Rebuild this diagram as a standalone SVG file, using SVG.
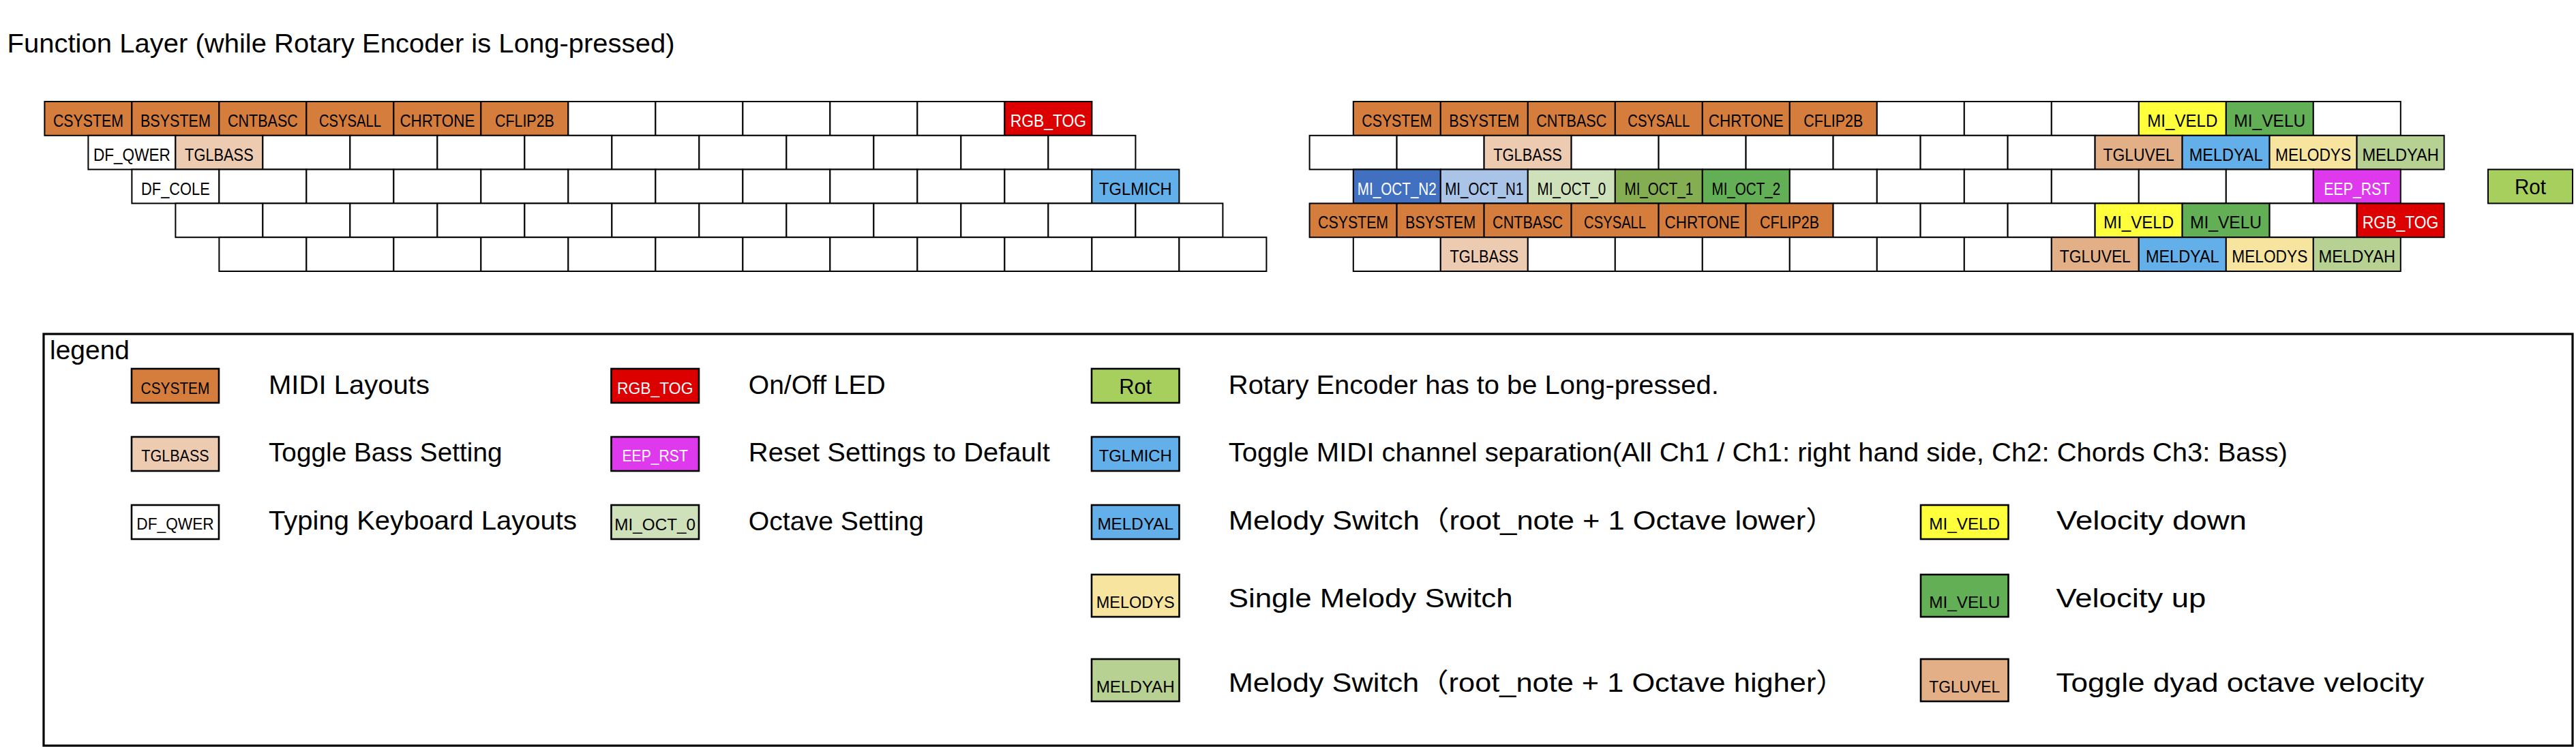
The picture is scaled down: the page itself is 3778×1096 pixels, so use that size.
<svg xmlns="http://www.w3.org/2000/svg" width="3778" height="1096" viewBox="0 0 3778 1096">
<style>
text{font-family:"Liberation Sans","Noto Sans CJK JP",Arial,sans-serif;fill:#000}
.k{stroke:#000;stroke-width:2;fill:#fff}
.s{stroke:#000;stroke-width:2.6}
.kl{font-size:25px;text-anchor:middle}
.sl{font-size:24px;text-anchor:middle}
.rt{font-size:31px;text-anchor:middle}
.d{font-size:39px}
.w{fill:#fff}
.o{fill:#D57D3C}.pb{fill:#EDCBB0}.rd{fill:#DC0000}.bl{fill:#63AFEA}
.n2{fill:#4170C0}.n1{fill:#A9C4E7}.c0{fill:#CFE1BA}.c1{fill:#84AE51}.c2{fill:#62AF56}
.ye{fill:#FFFF3C}.gr{fill:#62AF56}.tu{fill:#E3AF86}.ms{fill:#F7E59F}.mh{fill:#B7D192}
.ep{fill:#DF39ED}.ro{fill:#A6CF5E}.wh{fill:#fff}
</style>
<rect x="0" y="0" width="3778" height="1096" fill="#fff"/>
<text id="title" class="d" x="10.5" y="77.3" textLength="979" lengthAdjust="spacingAndGlyphs">Function Layer (while Rotary Encoder is Long-pressed)</text>

<g id="left-keyboard">
<!-- row 1 -->
<g id="L1-0"><rect class="k o" x="65.4" y="149" width="128" height="49.8"/><text class="kl" x="129.4" y="186" textLength="103" lengthAdjust="spacingAndGlyphs">CSYSTEM</text></g>
<g id="L1-1"><rect class="k o" x="193.4" y="149" width="128" height="49.8"/><text class="kl" x="257.4" y="186" textLength="103" lengthAdjust="spacingAndGlyphs">BSYSTEM</text></g>
<g id="L1-2"><rect class="k o" x="321.4" y="149" width="128" height="49.8"/><text class="kl" x="385.4" y="186" textLength="103" lengthAdjust="spacingAndGlyphs">CNTBASC</text></g>
<g id="L1-3"><rect class="k o" x="449.4" y="149" width="128" height="49.8"/><text class="kl" x="513.4" y="186" textLength="91" lengthAdjust="spacingAndGlyphs">CSYSALL</text></g>
<g id="L1-4"><rect class="k o" x="577.4" y="149" width="128" height="49.8"/><text class="kl" x="641.4" y="186" textLength="110" lengthAdjust="spacingAndGlyphs">CHRTONE</text></g>
<g id="L1-5"><rect class="k o" x="705.4" y="149" width="128" height="49.8"/><text class="kl" x="769.4" y="186" textLength="87" lengthAdjust="spacingAndGlyphs">CFLIP2B</text></g>
<g id="L1-6"><rect class="k" x="833.4" y="149" width="128" height="49.8"/></g>
<g id="L1-7"><rect class="k" x="961.4" y="149" width="128" height="49.8"/></g>
<g id="L1-8"><rect class="k" x="1089.4" y="149" width="128" height="49.8"/></g>
<g id="L1-9"><rect class="k" x="1217.4" y="149" width="128" height="49.8"/></g>
<g id="L1-10"><rect class="k" x="1345.4" y="149" width="128" height="49.8"/></g>
<g id="L1-11"><rect class="k rd" x="1473.4" y="149" width="128" height="49.8"/><text class="kl w" x="1537.4" y="186" textLength="111.5" lengthAdjust="spacingAndGlyphs">RGB_TOG</text></g>
<!-- row 2 -->
<g id="L2-0"><rect class="k" x="129.4" y="198.8" width="128" height="49.8"/><text class="kl" x="193.4" y="235.8" textLength="113" lengthAdjust="spacingAndGlyphs">DF_QWER</text></g>
<g id="L2-1"><rect class="k pb" x="257.4" y="198.8" width="128" height="49.8"/><text class="kl" x="321.4" y="235.8" textLength="100.6" lengthAdjust="spacingAndGlyphs">TGLBASS</text></g>
<g id="L2-2"><rect class="k" x="385.4" y="198.8" width="128" height="49.8"/></g>
<g id="L2-3"><rect class="k" x="513.4" y="198.8" width="128" height="49.8"/></g>
<g id="L2-4"><rect class="k" x="641.4" y="198.8" width="128" height="49.8"/></g>
<g id="L2-5"><rect class="k" x="769.4" y="198.8" width="128" height="49.8"/></g>
<g id="L2-6"><rect class="k" x="897.4" y="198.8" width="128" height="49.8"/></g>
<g id="L2-7"><rect class="k" x="1025.4" y="198.8" width="128" height="49.8"/></g>
<g id="L2-8"><rect class="k" x="1153.4" y="198.8" width="128" height="49.8"/></g>
<g id="L2-9"><rect class="k" x="1281.4" y="198.8" width="128" height="49.8"/></g>
<g id="L2-10"><rect class="k" x="1409.4" y="198.8" width="128" height="49.8"/></g>
<g id="L2-11"><rect class="k" x="1537.4" y="198.8" width="128" height="49.8"/></g>
<!-- row 3 -->
<g id="L3-0"><rect class="k" x="193.4" y="248.6" width="128" height="49.8"/><text class="kl" x="257.4" y="285.6" textLength="100.6" lengthAdjust="spacingAndGlyphs">DF_COLE</text></g>
<g id="L3-1"><rect class="k" x="321.4" y="248.6" width="128" height="49.8"/></g>
<g id="L3-2"><rect class="k" x="449.4" y="248.6" width="128" height="49.8"/></g>
<g id="L3-3"><rect class="k" x="577.4" y="248.6" width="128" height="49.8"/></g>
<g id="L3-4"><rect class="k" x="705.4" y="248.6" width="128" height="49.8"/></g>
<g id="L3-5"><rect class="k" x="833.4" y="248.6" width="128" height="49.8"/></g>
<g id="L3-6"><rect class="k" x="961.4" y="248.6" width="128" height="49.8"/></g>
<g id="L3-7"><rect class="k" x="1089.4" y="248.6" width="128" height="49.8"/></g>
<g id="L3-8"><rect class="k" x="1217.4" y="248.6" width="128" height="49.8"/></g>
<g id="L3-9"><rect class="k" x="1345.4" y="248.6" width="128" height="49.8"/></g>
<g id="L3-10"><rect class="k" x="1473.4" y="248.6" width="128" height="49.8"/></g>
<g id="L3-11"><rect class="k bl" x="1601.4" y="248.6" width="128" height="49.8"/><text class="kl" x="1665.4" y="285.6" textLength="106.6" lengthAdjust="spacingAndGlyphs">TGLMICH</text></g>
<!-- row 4 -->
<g id="L4-0"><rect class="k" x="257.4" y="298.4" width="128" height="49.8"/></g>
<g id="L4-1"><rect class="k" x="385.4" y="298.4" width="128" height="49.8"/></g>
<g id="L4-2"><rect class="k" x="513.4" y="298.4" width="128" height="49.8"/></g>
<g id="L4-3"><rect class="k" x="641.4" y="298.4" width="128" height="49.8"/></g>
<g id="L4-4"><rect class="k" x="769.4" y="298.4" width="128" height="49.8"/></g>
<g id="L4-5"><rect class="k" x="897.4" y="298.4" width="128" height="49.8"/></g>
<g id="L4-6"><rect class="k" x="1025.4" y="298.4" width="128" height="49.8"/></g>
<g id="L4-7"><rect class="k" x="1153.4" y="298.4" width="128" height="49.8"/></g>
<g id="L4-8"><rect class="k" x="1281.4" y="298.4" width="128" height="49.8"/></g>
<g id="L4-9"><rect class="k" x="1409.4" y="298.4" width="128" height="49.8"/></g>
<g id="L4-10"><rect class="k" x="1537.4" y="298.4" width="128" height="49.8"/></g>
<g id="L4-11"><rect class="k" x="1665.4" y="298.4" width="128" height="49.8"/></g>
<!-- row 5 -->
<g id="L5-0"><rect class="k" x="321.4" y="348.2" width="128" height="49.8"/></g>
<g id="L5-1"><rect class="k" x="449.4" y="348.2" width="128" height="49.8"/></g>
<g id="L5-2"><rect class="k" x="577.4" y="348.2" width="128" height="49.8"/></g>
<g id="L5-3"><rect class="k" x="705.4" y="348.2" width="128" height="49.8"/></g>
<g id="L5-4"><rect class="k" x="833.4" y="348.2" width="128" height="49.8"/></g>
<g id="L5-5"><rect class="k" x="961.4" y="348.2" width="128" height="49.8"/></g>
<g id="L5-6"><rect class="k" x="1089.4" y="348.2" width="128" height="49.8"/></g>
<g id="L5-7"><rect class="k" x="1217.4" y="348.2" width="128" height="49.8"/></g>
<g id="L5-8"><rect class="k" x="1345.4" y="348.2" width="128" height="49.8"/></g>
<g id="L5-9"><rect class="k" x="1473.4" y="348.2" width="128" height="49.8"/></g>
<g id="L5-10"><rect class="k" x="1601.4" y="348.2" width="128" height="49.8"/></g>
<g id="L5-11"><rect class="k" x="1729.4" y="348.2" width="128" height="49.8"/></g>
</g>

<g id="right-keyboard">
<!-- row 1 -->
<g id="R1-0"><rect class="k o" x="1984.8" y="149" width="128" height="49.8"/><text class="kl" x="2048.8" y="186" textLength="103" lengthAdjust="spacingAndGlyphs">CSYSTEM</text></g>
<g id="R1-1"><rect class="k o" x="2112.8" y="149" width="128" height="49.8"/><text class="kl" x="2176.8" y="186" textLength="103" lengthAdjust="spacingAndGlyphs">BSYSTEM</text></g>
<g id="R1-2"><rect class="k o" x="2240.8" y="149" width="128" height="49.8"/><text class="kl" x="2304.8" y="186" textLength="103" lengthAdjust="spacingAndGlyphs">CNTBASC</text></g>
<g id="R1-3"><rect class="k o" x="2368.8" y="149" width="128" height="49.8"/><text class="kl" x="2432.8" y="186" textLength="91" lengthAdjust="spacingAndGlyphs">CSYSALL</text></g>
<g id="R1-4"><rect class="k o" x="2496.8" y="149" width="128" height="49.8"/><text class="kl" x="2560.8" y="186" textLength="110" lengthAdjust="spacingAndGlyphs">CHRTONE</text></g>
<g id="R1-5"><rect class="k o" x="2624.8" y="149" width="128" height="49.8"/><text class="kl" x="2688.8" y="186" textLength="87" lengthAdjust="spacingAndGlyphs">CFLIP2B</text></g>
<g id="R1-6"><rect class="k" x="2752.8" y="149" width="128" height="49.8"/></g>
<g id="R1-7"><rect class="k" x="2880.8" y="149" width="128" height="49.8"/></g>
<g id="R1-8"><rect class="k" x="3008.8" y="149" width="128" height="49.8"/></g>
<g id="R1-9"><rect class="k ye" x="3136.8" y="149" width="128" height="49.8"/><text class="kl" x="3200.8" y="186" textLength="103" lengthAdjust="spacingAndGlyphs">MI_VELD</text></g>
<g id="R1-10"><rect class="k gr" x="3264.8" y="149" width="128" height="49.8"/><text class="kl" x="3328.8" y="186" textLength="105" lengthAdjust="spacingAndGlyphs">MI_VELU</text></g>
<g id="R1-11"><rect class="k" x="3392.8" y="149" width="128" height="49.8"/></g>
<!-- row 2 -->
<g id="R2-0"><rect class="k" x="1920.6" y="198.8" width="128" height="49.8"/></g>
<g id="R2-1"><rect class="k" x="2048.6" y="198.8" width="128" height="49.8"/></g>
<g id="R2-2"><rect class="k pb" x="2176.6" y="198.8" width="128" height="49.8"/><text class="kl" x="2240.6" y="235.8" textLength="100.6" lengthAdjust="spacingAndGlyphs">TGLBASS</text></g>
<g id="R2-3"><rect class="k" x="2304.6" y="198.8" width="128" height="49.8"/></g>
<g id="R2-4"><rect class="k" x="2432.6" y="198.8" width="128" height="49.8"/></g>
<g id="R2-5"><rect class="k" x="2560.6" y="198.8" width="128" height="49.8"/></g>
<g id="R2-6"><rect class="k" x="2688.6" y="198.8" width="128" height="49.8"/></g>
<g id="R2-7"><rect class="k" x="2816.6" y="198.8" width="128" height="49.8"/></g>
<g id="R2-8"><rect class="k" x="2944.6" y="198.8" width="128" height="49.8"/></g>
<g id="R2-9"><rect class="k tu" x="3072.6" y="198.8" width="128" height="49.8"/><text class="kl" x="3136.6" y="235.8" textLength="104" lengthAdjust="spacingAndGlyphs">TGLUVEL</text></g>
<g id="R2-10"><rect class="k bl" x="3200.6" y="198.8" width="128" height="49.8"/><text class="kl" x="3264.6" y="235.8" textLength="107.7" lengthAdjust="spacingAndGlyphs">MELDYAL</text></g>
<g id="R2-11"><rect class="k ms" x="3328.6" y="198.8" width="128" height="49.8"/><text class="kl" x="3392.6" y="235.8" textLength="111" lengthAdjust="spacingAndGlyphs">MELODYS</text></g>
<g id="R2-12"><rect class="k mh" x="3456.6" y="198.8" width="128" height="49.8"/><text class="kl" x="3520.6" y="235.8" textLength="112.4" lengthAdjust="spacingAndGlyphs">MELDYAH</text></g>
<!-- row 3 -->
<g id="R3-0"><rect class="k n2" x="1984.8" y="248.6" width="128" height="49.8"/><text class="kl w" x="2048.8" y="285.6" textLength="116" lengthAdjust="spacingAndGlyphs">MI_OCT_N2</text></g>
<g id="R3-1"><rect class="k n1" x="2112.8" y="248.6" width="128" height="49.8"/><text class="kl" x="2176.8" y="285.6" textLength="115" lengthAdjust="spacingAndGlyphs">MI_OCT_N1</text></g>
<g id="R3-2"><rect class="k c0" x="2240.8" y="248.6" width="128" height="49.8"/><text class="kl" x="2304.8" y="285.6" textLength="100.6" lengthAdjust="spacingAndGlyphs">MI_OCT_0</text></g>
<g id="R3-3"><rect class="k c1" x="2368.8" y="248.6" width="128" height="49.8"/><text class="kl" x="2432.8" y="285.6" textLength="100.6" lengthAdjust="spacingAndGlyphs">MI_OCT_1</text></g>
<g id="R3-4"><rect class="k c2" x="2496.8" y="248.6" width="128" height="49.8"/><text class="kl" x="2560.8" y="285.6" textLength="100.6" lengthAdjust="spacingAndGlyphs">MI_OCT_2</text></g>
<g id="R3-5"><rect class="k" x="2624.8" y="248.6" width="128" height="49.8"/></g>
<g id="R3-6"><rect class="k" x="2752.8" y="248.6" width="128" height="49.8"/></g>
<g id="R3-7"><rect class="k" x="2880.8" y="248.6" width="128" height="49.8"/></g>
<g id="R3-8"><rect class="k" x="3008.8" y="248.6" width="128" height="49.8"/></g>
<g id="R3-9"><rect class="k" x="3136.8" y="248.6" width="128" height="49.8"/></g>
<g id="R3-10"><rect class="k" x="3264.8" y="248.6" width="128" height="49.8"/></g>
<g id="R3-11"><rect class="k ep" x="3392.8" y="248.6" width="128" height="49.8"/><text class="kl w" x="3456.8" y="285.6" textLength="97" lengthAdjust="spacingAndGlyphs">EEP_RST</text></g>
<!-- row 4 -->
<g id="R4-0"><rect class="k o" x="1920.6" y="298.4" width="128" height="49.8"/><text class="kl" x="1984.6" y="335.4" textLength="103" lengthAdjust="spacingAndGlyphs">CSYSTEM</text></g>
<g id="R4-1"><rect class="k o" x="2048.6" y="298.4" width="128" height="49.8"/><text class="kl" x="2112.6" y="335.4" textLength="103" lengthAdjust="spacingAndGlyphs">BSYSTEM</text></g>
<g id="R4-2"><rect class="k o" x="2176.6" y="298.4" width="128" height="49.8"/><text class="kl" x="2240.6" y="335.4" textLength="103" lengthAdjust="spacingAndGlyphs">CNTBASC</text></g>
<g id="R4-3"><rect class="k o" x="2304.6" y="298.4" width="128" height="49.8"/><text class="kl" x="2368.6" y="335.4" textLength="91" lengthAdjust="spacingAndGlyphs">CSYSALL</text></g>
<g id="R4-4"><rect class="k o" x="2432.6" y="298.4" width="128" height="49.8"/><text class="kl" x="2496.6" y="335.4" textLength="110" lengthAdjust="spacingAndGlyphs">CHRTONE</text></g>
<g id="R4-5"><rect class="k o" x="2560.6" y="298.4" width="128" height="49.8"/><text class="kl" x="2624.6" y="335.4" textLength="87" lengthAdjust="spacingAndGlyphs">CFLIP2B</text></g>
<g id="R4-6"><rect class="k" x="2688.6" y="298.4" width="128" height="49.8"/></g>
<g id="R4-7"><rect class="k" x="2816.6" y="298.4" width="128" height="49.8"/></g>
<g id="R4-8"><rect class="k" x="2944.6" y="298.4" width="128" height="49.8"/></g>
<g id="R4-9"><rect class="k ye" x="3072.6" y="298.4" width="128" height="49.8"/><text class="kl" x="3136.6" y="335.4" textLength="103" lengthAdjust="spacingAndGlyphs">MI_VELD</text></g>
<g id="R4-10"><rect class="k gr" x="3200.6" y="298.4" width="128" height="49.8"/><text class="kl" x="3264.6" y="335.4" textLength="105" lengthAdjust="spacingAndGlyphs">MI_VELU</text></g>
<g id="R4-11"><rect class="k" x="3328.6" y="298.4" width="128" height="49.8"/></g>
<g id="R4-12"><rect class="k rd" x="3456.6" y="298.4" width="128" height="49.8"/><text class="kl w" x="3520.6" y="335.4" textLength="111.5" lengthAdjust="spacingAndGlyphs">RGB_TOG</text></g>
<!-- row 5 -->
<g id="R5-0"><rect class="k" x="1984.8" y="348.2" width="128" height="49.8"/></g>
<g id="R5-1"><rect class="k pb" x="2112.8" y="348.2" width="128" height="49.8"/><text class="kl" x="2176.8" y="385.2" textLength="100.6" lengthAdjust="spacingAndGlyphs">TGLBASS</text></g>
<g id="R5-2"><rect class="k" x="2240.8" y="348.2" width="128" height="49.8"/></g>
<g id="R5-3"><rect class="k" x="2368.8" y="348.2" width="128" height="49.8"/></g>
<g id="R5-4"><rect class="k" x="2496.8" y="348.2" width="128" height="49.8"/></g>
<g id="R5-5"><rect class="k" x="2624.8" y="348.2" width="128" height="49.8"/></g>
<g id="R5-6"><rect class="k" x="2752.8" y="348.2" width="128" height="49.8"/></g>
<g id="R5-7"><rect class="k" x="2880.8" y="348.2" width="128" height="49.8"/></g>
<g id="R5-8"><rect class="k tu" x="3008.8" y="348.2" width="128" height="49.8"/><text class="kl" x="3072.8" y="385.2" textLength="104" lengthAdjust="spacingAndGlyphs">TGLUVEL</text></g>
<g id="R5-9"><rect class="k bl" x="3136.8" y="348.2" width="128" height="49.8"/><text class="kl" x="3200.8" y="385.2" textLength="107.7" lengthAdjust="spacingAndGlyphs">MELDYAL</text></g>
<g id="R5-10"><rect class="k ms" x="3264.8" y="348.2" width="128" height="49.8"/><text class="kl" x="3328.8" y="385.2" textLength="111" lengthAdjust="spacingAndGlyphs">MELODYS</text></g>
<g id="R5-11"><rect class="k mh" x="3392.8" y="348.2" width="128" height="49.8"/><text class="kl" x="3456.8" y="385.2" textLength="112.4" lengthAdjust="spacingAndGlyphs">MELDYAH</text></g>
</g>

<g id="rot-key"><rect class="k ro" x="3649" y="248.6" width="124" height="49.8"/><text class="rt" x="3711" y="285" textLength="46" lengthAdjust="spacingAndGlyphs">Rot</text></g>

<g id="connectors"/>

<g id="legend">
<rect x="64" y="490" width="3709" height="604" fill="none" stroke="#000" stroke-width="3.2"/>
<text class="d" x="73" y="526.7" textLength="117" lengthAdjust="spacingAndGlyphs">legend</text>

<g id="lg-midi"><rect class="s o" x="193" y="541" width="128" height="50"/><text class="sl" x="257" y="577.7" textLength="100.8" lengthAdjust="spacingAndGlyphs">CSYSTEM</text><text class="d" x="394" y="577.7" textLength="236" lengthAdjust="spacingAndGlyphs">MIDI Layouts</text></g>
<g id="lg-bass"><rect class="s pb" x="193" y="641" width="128" height="50"/><text class="sl" x="257" y="676.7" textLength="99.5" lengthAdjust="spacingAndGlyphs">TGLBASS</text><text class="d" x="394" y="676.7" textLength="342.5" lengthAdjust="spacingAndGlyphs">Toggle Bass Setting</text></g>
<g id="lg-typing"><rect class="s wh" x="193" y="741" width="128" height="50"/><text class="sl" x="257" y="776.7" textLength="113.5" lengthAdjust="spacingAndGlyphs">DF_QWER</text><text class="d" x="394" y="776.7" textLength="452" lengthAdjust="spacingAndGlyphs">Typing Keyboard Layouts</text></g>

<g id="lg-led"><rect class="s rd" x="896.5" y="541" width="128.5" height="50"/><text class="sl w" x="960.7" y="577.7" textLength="111.6" lengthAdjust="spacingAndGlyphs">RGB_TOG</text><text class="d" x="1097.8" y="577.7" textLength="201" lengthAdjust="spacingAndGlyphs">On/Off LED</text></g>
<g id="lg-reset"><rect class="s ep" x="896.5" y="641" width="128.5" height="50"/><text class="sl w" x="960.7" y="676.7" textLength="96.4" lengthAdjust="spacingAndGlyphs">EEP_RST</text><text class="d" x="1097.8" y="676.7" textLength="442" lengthAdjust="spacingAndGlyphs">Reset Settings to Default</text></g>
<g id="lg-octave"><rect class="s c0" x="896.5" y="741" width="128.5" height="50"/><text class="sl" x="960.7" y="777.7" textLength="118.7" lengthAdjust="spacingAndGlyphs">MI_OCT_0</text><text class="d" x="1097.8" y="777.7" textLength="257" lengthAdjust="spacingAndGlyphs">Octave Setting</text></g>

<g id="lg-rot"><rect class="s ro" x="1601" y="541" width="128.5" height="50"/><text class="rt" x="1665.2" y="577.7" textLength="48" lengthAdjust="spacingAndGlyphs">Rot</text><text class="d" x="1801.8" y="577.7" textLength="719" lengthAdjust="spacingAndGlyphs">Rotary Encoder has to be Long-pressed.</text></g>
<g id="lg-midich"><rect class="s bl" x="1601" y="641" width="128.5" height="50"/><text class="sl" x="1665.2" y="676.7" textLength="107" lengthAdjust="spacingAndGlyphs">TGLMICH</text><text class="d" x="1801.8" y="676.7" textLength="1553" lengthAdjust="spacingAndGlyphs">Toggle MIDI channel separation(All Ch1 / Ch1: right hand side, Ch2: Chords Ch3: Bass)</text></g>
<g id="lg-meldyal"><rect class="s bl" x="1601" y="741" width="128.5" height="50"/><text class="sl" x="1665.2" y="776.7" textLength="111.6" lengthAdjust="spacingAndGlyphs">MELDYAL</text><text class="d" x="1801.8" y="776.7" textLength="890" lengthAdjust="spacingAndGlyphs">Melody Switch（root_note + 1 Octave lower）</text></g>
<g id="lg-melodys"><rect class="s ms" x="1601" y="843" width="128.5" height="62"/><text class="sl" x="1665.2" y="891.7" textLength="115" lengthAdjust="spacingAndGlyphs">MELODYS</text><text class="d" x="1801.7" y="890.7" textLength="417" lengthAdjust="spacingAndGlyphs">Single Melody Switch</text></g>
<g id="lg-meldyah"><rect class="s mh" x="1601" y="967" width="128.5" height="62"/><text class="sl" x="1665.2" y="1016" textLength="115" lengthAdjust="spacingAndGlyphs">MELDYAH</text><text class="d" x="1801.7" y="1015" textLength="905" lengthAdjust="spacingAndGlyphs">Melody Switch（root_note + 1 Octave higher）</text></g>

<g id="lg-veld"><rect class="s ye" x="2817" y="741" width="128.5" height="50"/><text class="sl" x="2881.2" y="776.7" textLength="103.8" lengthAdjust="spacingAndGlyphs">MI_VELD</text><text class="d" x="3016" y="776.7" textLength="279" lengthAdjust="spacingAndGlyphs">Velocity down</text></g>
<g id="lg-velu"><rect class="s gr" x="2817" y="843" width="128.5" height="62"/><text class="sl" x="2881.2" y="891.7" textLength="104" lengthAdjust="spacingAndGlyphs">MI_VELU</text><text class="d" x="3015.4" y="890.7" textLength="220" lengthAdjust="spacingAndGlyphs">Velocity up</text></g>
<g id="lg-tgluvel"><rect class="s tu" x="2817" y="967" width="128.5" height="62"/><text class="sl" x="2881.2" y="1016" textLength="104" lengthAdjust="spacingAndGlyphs">TGLUVEL</text><text class="d" x="3015.4" y="1015" textLength="540" lengthAdjust="spacingAndGlyphs">Toggle dyad octave velocity</text></g>
</g>
</svg>
